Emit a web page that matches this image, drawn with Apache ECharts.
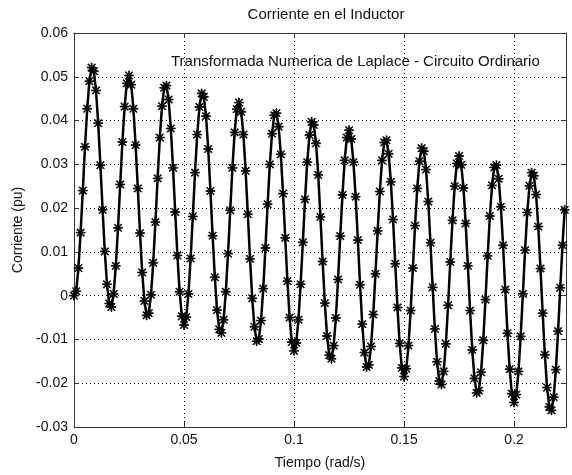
<!DOCTYPE html>
<html>
<head>
<meta charset="utf-8">
<script src="https://cdn.jsdelivr.net/npm/echarts@6/dist/echarts.min.js"></script>
<style>
  html, body { margin: 0; padding: 0; background: #fff; }
  #chart { width: 572px; height: 475px; }
</style>
</head>
<body>
<div id="chart"></div>
<script>
// muestreo: paso de 1 ms
var paso = 0.001;

// corriente (pu), una muestra por paso
var corriente = [
  0.0000, 0.0010, 0.0063, 0.0144, 0.0240, 0.0340, 0.0427, 0.0490, 0.0521, 0.0513,
  0.0469, 0.0394, 0.0298, 0.0196, 0.0101, 0.0026, -0.0018, -0.0026, 0.0004, 0.0068,
  0.0155, 0.0254, 0.0351, 0.0432, 0.0485, 0.0503, 0.0482, 0.0427, 0.0344, 0.0245,
  0.0143, 0.0053, -0.0012, -0.0045, -0.0040, 0.0002, 0.0075, 0.0168, 0.0268, 0.0361,
  0.0433, 0.0475, 0.0480, 0.0448, 0.0382, 0.0292, 0.0191, 0.0092, 0.0009, -0.0047,
  -0.0067, -0.0049, 0.0004, 0.0085, 0.0181, 0.0281, 0.0368, 0.0431, 0.0462, 0.0454,
  0.0410, 0.0335, 0.0239, 0.0137, 0.0042, -0.0033, -0.0077, -0.0085, -0.0055, 0.0009,
  0.0096, 0.0195, 0.0292, 0.0373, 0.0426, 0.0441, 0.0420, 0.0368, 0.0285, 0.0186,
  0.0084, -0.0006, -0.0071, -0.0104, -0.0099, -0.0057, 0.0016, 0.0109, 0.0209, 0.0300,
  0.0370, 0.0412, 0.0417, 0.0386, 0.0323, 0.0233, 0.0132, 0.0033, -0.0050, -0.0106,
  -0.0126, -0.0108, -0.0055, 0.0026, 0.0122, 0.0220, 0.0305, 0.0367, 0.0397, 0.0390,
  0.0348, 0.0276, 0.0180, 0.0078, -0.0017, -0.0092, -0.0136, -0.0144, -0.0114, -0.0051,
  0.0037, 0.0136, 0.0230, 0.0309, 0.0361, 0.0378, 0.0358, 0.0305, 0.0226, 0.0127,
  0.0025, -0.0065, -0.0130, -0.0163, -0.0158, -0.0116, -0.0043, 0.0050, 0.0148, 0.0238,
  0.0309, 0.0350, 0.0355, 0.0324, 0.0260, 0.0174, 0.0073, -0.0027, -0.0109, -0.0165,
  -0.0185, -0.0167, -0.0114, -0.0034, 0.0063, 0.0160, 0.0245, 0.0307, 0.0337, 0.0330,
  0.0288, 0.0215, 0.0121, 0.0019, -0.0076, -0.0151, -0.0195, -0.0203, -0.0173, -0.0110,
  -0.0022, 0.0077, 0.0172, 0.0250, 0.0302, 0.0319, 0.0299, 0.0246, 0.0165, 0.0068,
  -0.0034, -0.0124, -0.0189, -0.0222, -0.0217, -0.0175, -0.0102, -0.0009, 0.0091, 0.0182,
  0.0252, 0.0293, 0.0298, 0.0267, 0.0203, 0.0115, 0.0014, -0.0086, -0.0168, -0.0224,
  -0.0244, -0.0226, -0.0173, -0.0093, 0.0004, 0.0104, 0.0190, 0.0251, 0.0281, 0.0274,
  0.0231, 0.0158, 0.0062, -0.0040, -0.0135, -0.0210, -0.0254, -0.0262, -0.0232, -0.0169,
  -0.0081, 0.0018, 0.0115, 0.0196
];

var ejeX = { min: 0, max: 0.2236, interval: 0.05 };
var ejeY = { min: -0.03, max: 0.06, interval: 0.01 };

var titulo = 'Corriente en el Inductor';
var leyenda = 'Transformada Numerica de Laplace - Circuito Ordinario';
var nombreX = 'Tiempo (rad/s)';
var nombreY = 'Corriente (pu)';

// asterisco tipo '*' de matlab
var asterisco = 'path://M4.5,0h1v4.5h4.5v1h-4.5v4.5h-1v-4.5h-4.5v-1h4.5z' +
  'M1.4,0.7L9.3,8.6L8.6,9.3L0.7,1.4z' +
  'M8.6,0.7L9.3,1.4L1.4,9.3L0.7,8.6z';

var fuente = '"Liberation Sans", Arial, sans-serif';
var puntos = corriente.map(function(v, k) { return [k * paso, v]; });

function marcoX(pos, conEtiquetas) {
  return {
    type: 'value', position: pos,
    min: ejeX.min, max: ejeX.max, interval: ejeX.interval,
    axisLine: { show: true, onZero: false, lineStyle: { color: '#333', width: 1 } },
    axisTick: { show: true, inside: true, length: 5, lineStyle: { color: '#333' } },
    axisLabel: {
      show: conEtiquetas, color: '#111', fontSize: 14, fontFamily: fuente, margin: 6,
      formatter: function(v) {
        var r = v / ejeX.interval;
        return Math.abs(r - Math.round(r)) < 1e-6 ? String(+v.toFixed(3)) : '';
      }
    },
    splitLine: { show: conEtiquetas, lineStyle: { color: '#000', type: [1, 3], width: 1 } }
  };
}

function marcoY(pos, conEtiquetas) {
  return {
    type: 'value', position: pos,
    min: ejeY.min, max: ejeY.max, interval: ejeY.interval,
    axisLine: { show: true, onZero: false, lineStyle: { color: '#333', width: 1 } },
    axisTick: { show: true, inside: true, length: 5, lineStyle: { color: '#333' } },
    axisLabel: {
      show: conEtiquetas, color: '#111', fontSize: 14, fontFamily: fuente, margin: 6,
      formatter: function(v) { return String(+v.toFixed(3)); }
    },
    splitLine: { show: conEtiquetas, lineStyle: { color: '#000', type: [1, 3], width: 1 } }
  };
}

var chart = echarts.init(document.getElementById('chart'));

var ejeInf = marcoX('bottom', true);
ejeInf.name = nombreX;
ejeInf.nameLocation = 'middle';
ejeInf.nameGap = 29;
ejeInf.nameTextStyle = { color: '#111', fontSize: 14, fontFamily: fuente };

var ejeIzq = marcoY('left', true);
ejeIzq.name = nombreY;
ejeIzq.nameLocation = 'middle';
ejeIzq.nameGap = 48;
ejeIzq.nameTextStyle = { color: '#111', fontSize: 14, fontFamily: fuente };

chart.setOption({
  animation: false,
  backgroundColor: '#fff',
  grid: { left: 74, right: 6, top: 33, bottom: 45 },
  xAxis: [ejeInf, marcoX('top', false)],
  yAxis: [ejeIzq, marcoY('right', false)],
  graphic: [
    { type: 'text', x: 326, y: 15, style: { text: titulo, fill: '#111', font: '15px ' + fuente, textAlign: 'center', textVerticalAlign: 'middle' } },
    { type: 'text', x: 171, y: 62, style: { text: leyenda, fill: '#111', font: '15px ' + fuente, textAlign: 'left', textVerticalAlign: 'middle' } }
  ],
  series: [{
    type: 'line',
    data: puntos,
    symbol: asterisco,
    symbolSize: 9,
    showSymbol: true,
    showAllSymbol: true,
    lineStyle: { color: '#000', width: 2.5 },
    itemStyle: { color: '#000', borderColor: '#000', borderWidth: 0.8 },
    z: 3
  }]
});
</script>
</body>
</html>
